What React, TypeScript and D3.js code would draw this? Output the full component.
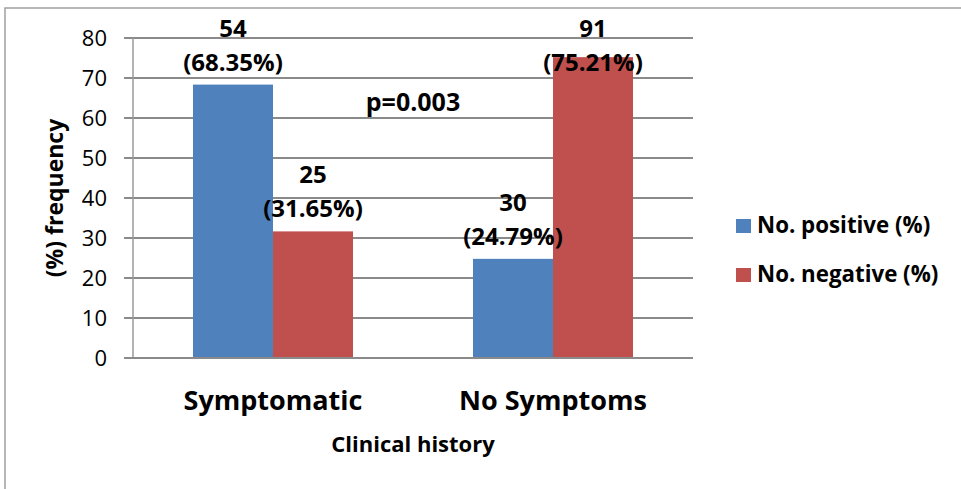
import { scaleBand, scaleLinear } from "d3";

const categories = ["Symptomatic", "No Symptoms"];
const seriesNames = ["No. positive (%)", "No. negative (%)"];
const positivePct = [68.35, 24.79];
const negativePct = [31.65, 75.21];
const positiveCount = [54, 30];
const negativeCount = [25, 91];
const yTicks = [0, 10, 20, 30, 40, 50, 60, 70, 80];
const pValue = "p=0.003";

const colors = ["#4F81BD", "#C0504D"];
const font = "'Open Sans', 'Liberation Sans', sans-serif";

export default function App() {
  const width = 961;
  const height = 489;
  const plot = { left: 133, right: 693, top: 38, bottom: 358 };

  const x0 = scaleBand<string>()
    .domain(categories)
    .range([plot.left, plot.right])
    .paddingInner(3 / 7)
    .paddingOuter(1.5 / 7);
  const x1 = scaleBand<string>().domain(seriesNames).range([0, x0.bandwidth()]);
  const y = scaleLinear().domain([0, 80]).range([plot.bottom, plot.top]);

  const bars = categories.flatMap((c, i) => [
    { cat: c, s: seriesNames[0], pct: positivePct[i], n: positiveCount[i], color: colors[0] },
    { cat: c, s: seriesNames[1], pct: negativePct[i], n: negativeCount[i], color: colors[1] },
  ]);

  return (
    <svg
      width={width}
      height={height}
      style={{ position: "absolute", left: 0, top: 0, display: "block", background: "#fff" }}
      fontFamily={font}
    >
      <rect x={5} y={8} width={1000} height={600} fill="#fff" stroke="#a0a0a0" strokeWidth={1.5} />

      {/* gridlines + y ticks */}
      {yTicks.map((t) => (
        <g key={t}>
          <line x1={plot.left - 9} x2={plot.right} y1={y(t)} y2={y(t)} stroke="#8a8a8a" strokeWidth={1.8} />
          <text x={107} y={y(t)} dy="0.36em" textAnchor="end" fontSize={22} fill="#000">
            {t}
          </text>
        </g>
      ))}
      <line x1={plot.left} x2={plot.left} y1={plot.top} y2={plot.bottom} stroke="#9a9a9a" strokeWidth={1.5} />

      {/* bars */}
      {bars.map((b) => (
        <rect
          key={b.cat + b.s}
          x={x0(b.cat)! + x1(b.s)!}
          y={y(b.pct)}
          width={x1.bandwidth()}
          height={y(0) - y(b.pct)}
          fill={b.color}
        />
      ))}
      <line x1={plot.left - 9} x2={plot.right} y1={y(0)} y2={y(0)} stroke="#8a8a8a" strokeWidth={1.8} />

      {/* data labels */}
      {bars.map((b) => {
        const cx = x0(b.cat)! + x1(b.s)! + x1.bandwidth() / 2;
        const base2 = Math.max(y(b.pct) - 14, 71);
        return (
          <g key={"l" + b.cat + b.s} fontWeight="bold" fontSize={24} textAnchor="middle" fill="#000">
            <text x={cx} y={base2 - 34}>{b.n}</text>
            <text x={cx} y={base2}>({b.pct.toFixed(2)}%)</text>
          </g>
        );
      })}

      <text x={(plot.left + plot.right) / 2} y={111} textAnchor="middle" fontWeight="bold" fontSize={25}>
        {pValue}
      </text>

      {/* category labels */}
      {categories.map((c) => (
        <text
          key={c}
          x={x0(c)! + x0.bandwidth() / 2}
          y={410}
          textAnchor="middle"
          fontWeight="bold"
          fontSize={27}
        >
          {c}
        </text>
      ))}

      <text x={(plot.left + plot.right) / 2} y={452} textAnchor="middle" fontWeight="bold" fontSize={22}>
        Clinical history
      </text>
      <text
        transform={`translate(63, ${(plot.top + plot.bottom) / 2}) rotate(-90)`}
        textAnchor="middle"
        fontWeight="bold"
        fontSize={23}
      >
        (%) frequency
      </text>

      {/* legend */}
      {seriesNames.map((s, i) => (
        <g key={s} transform={`translate(736, ${219 + i * 49})`}>
          <rect width={15} height={14} fill={colors[i]} />
          <text x={21} y={14} fontWeight="bold" fontSize={22.3}>
            {s}
          </text>
        </g>
      ))}
    </svg>
  );
}
